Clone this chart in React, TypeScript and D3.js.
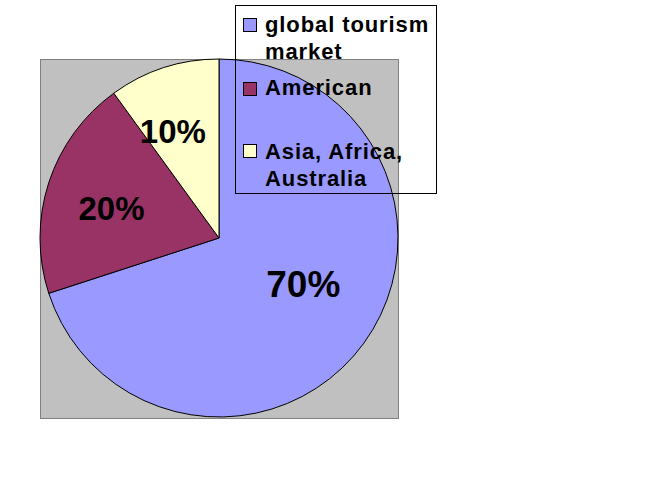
import React from "react";
import * as d3 from "d3";

const categories = ["global tourism market", "American", "Asia, Africa, Australia"];
const values = [70, 20, 10];
const labels = ["70%", "20%", "10%"];
const colors = ["#9999FF", "#993366", "#FFFFCC"];
const legendLines = [["global tourism", "market"], ["American"], ["Asia, Africa,", "Australia"]];

const W = 648;
const H = 479;

export default function App() {
  const cx = 219;
  const cy = 238;
  const r = 179;
  const pie = d3.pie<number>().sort(null).value((d) => d)(values);
  const arc = d3.arc<d3.PieArcDatum<number>>().innerRadius(0).outerRadius(r);

  const labelRadius = [0.52, 0.62, 0.6];
  const labelSize = [37, 33, 33];
  const labelShift = [[9, -8], [-2, 5], [-13, -4]];

  const legendY = [32, 95, 159];
  const swatchY = [18, 82, 144];

  return (
    <svg
      width={W}
      height={H}
      style={{ position: "absolute", left: 0, top: 0, background: "#fff" }}
      fontFamily="Liberation Sans, Arial, sans-serif"
    >
      <rect x={40.5} y={59.5} width={358} height={359} fill="#C0C0C0" stroke="#808080" strokeWidth={1} />
      <g transform={`translate(${cx},${cy})`}>
        {pie.map((p, i) => (
          <path key={categories[i]} d={arc(p) || ""} fill={colors[i]} stroke="#000" strokeWidth={1} />
        ))}
        {pie.map((p, i) => {
          const a = (p.startAngle + p.endAngle) / 2;
          const lr = r * labelRadius[i];
          const x = Math.sin(a) * lr + labelShift[i][0];
          const y = -Math.cos(a) * lr + labelShift[i][1];
          return (
            <text
              key={"l" + i}
              x={x}
              y={y}
              textAnchor="middle"
              dominantBaseline="central"
              fontWeight="bold"
              fontSize={labelSize[i]}
              fill="#000"
            >
              {labels[i]}
            </text>
          );
        })}
      </g>
      <rect x={235.5} y={5.5} width={201} height={188} fill="none" stroke="#000" strokeWidth={1} />
      {categories.map((c, i) => (
        <g key={"lg" + i}>
          <rect x={243.5} y={swatchY[i] + 0.5} width={13} height={13} fill={colors[i]} stroke="#000" strokeWidth={1} />
          <text x={265} y={legendY[i]} fontSize={22} fontWeight="bold" fill="#000" letterSpacing={0.9}>
            {legendLines[i].map((t, j) => (
              <tspan key={j} x={265} dy={j === 0 ? 0 : 27}>
                {t}
              </tspan>
            ))}
          </text>
        </g>
      ))}
    </svg>
  );
}
